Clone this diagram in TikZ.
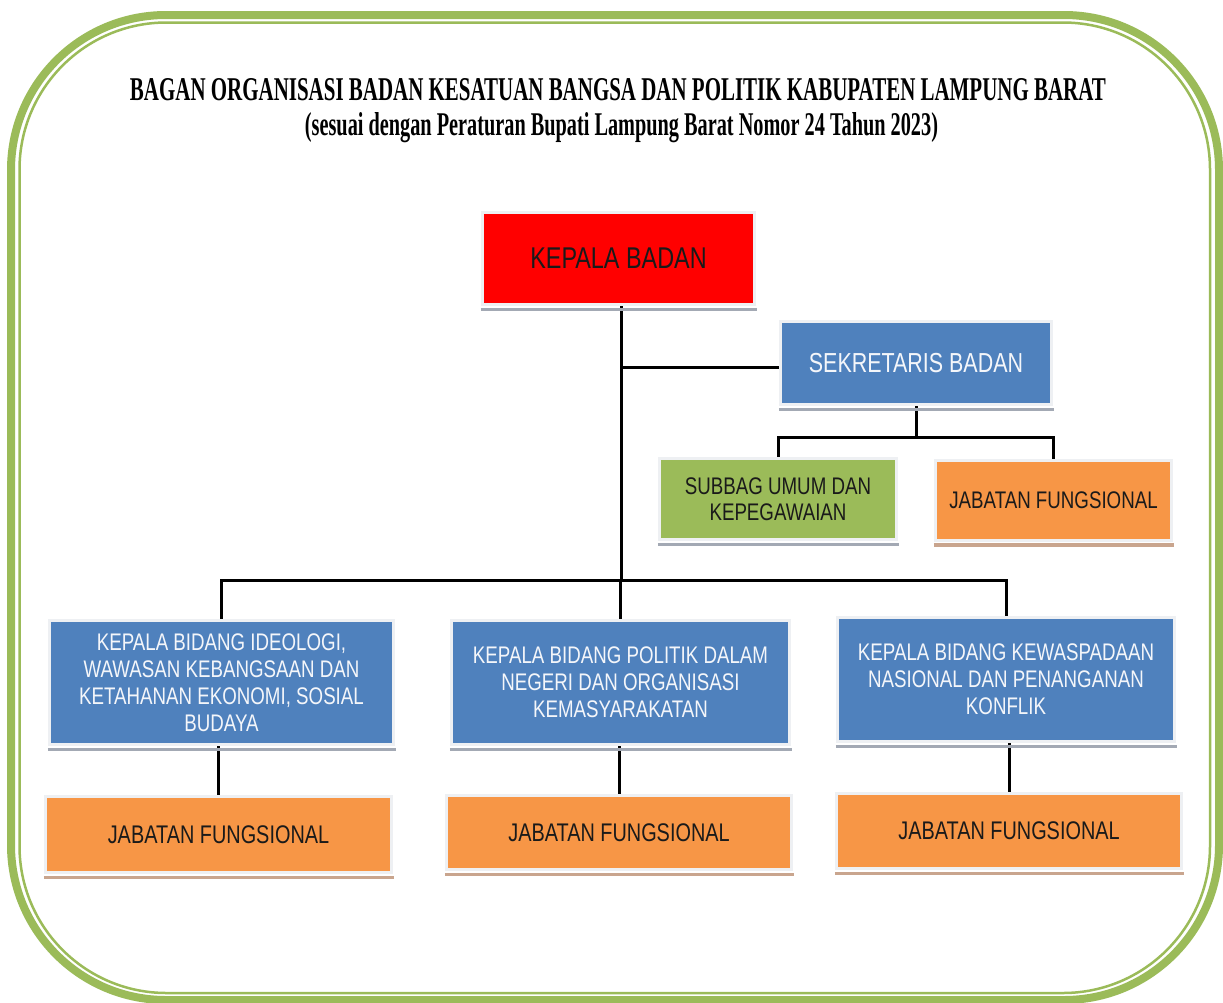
\documentclass[tikz,border=0pt]{standalone}
\usepackage{fontspec}
\usepackage{graphicx}
\usetikzlibrary{backgrounds}
\newfontfamily\titlefont{Liberation Serif}
\newfontfamily\boxfont[FakeStretch=0.78]{Liberation Sans}
\definecolor{kbred}{HTML}{FF0000}
\definecolor{obblue}{HTML}{4F81BD}
\definecolor{obgreen}{HTML}{9BBB59}
\definecolor{oborange}{HTML}{F79646}
\definecolor{framecol}{HTML}{EEF0F3}
\definecolor{shadgray}{HTML}{A3A9B4}
\definecolor{shadbrown}{HTML}{C9A58E}
\definecolor{bordergreen}{HTML}{9BBB59}
\definecolor{darktext}{HTML}{1A1A1A}
\definecolor{lighttext}{HTML}{F4F6FA}
\begin{document}
\begin{tikzpicture}[x=1pt,y=-1pt,
  orgbox/.style={rectangle, inner sep=0pt, align=center, preaction={draw=framecol, line width=6pt}},
  redbox/.style={orgbox, fill=kbred, text=darktext, font=\boxfont\fontsize{30}{34}\selectfont},
  sekbox/.style={orgbox, fill=obblue, text=lighttext, font=\boxfont\fontsize{27.5}{31}\selectfont},
  bluebox/.style={orgbox, fill=obblue, text=lighttext, font=\boxfont\fontsize{24}{27}\selectfont},
  greenbox/.style={orgbox, fill=obgreen, text=darktext, font=\boxfont\fontsize{24}{26}\selectfont},
  orangebox/.style={orgbox, fill=oborange, text=darktext, font=\boxfont\fontsize{24}{27}\selectfont},
  jfbox/.style={orgbox, fill=oborange, text=darktext, font=\boxfont\fontsize{25.5}{29}\selectfont},
  link/.style={draw=black, line width=3pt},
  shadowline/.style={line width=3.5pt},
  frameouter/.style={draw=bordergreen, line width=8pt, rounded corners=155pt},
  frameinner/.style={draw=bordergreen, line width=2.5pt, rounded corners=147pt}
]
\useasboundingbox (0,0) rectangle (1223,1002);

% page frame
\draw[frameouter] (11,15) rectangle (1219,1000);
\draw[frameinner] (19.5,22.5) rectangle (1210,993);

% title
\node[anchor=base, inner sep=0pt] (title1) at (618,100)
  {\resizebox{976pt}{22pt}{\titlefont\bfseries BAGAN ORGANISASI BADAN KESATUAN BANGSA DAN POLITIK KABUPATEN LAMPUNG BARAT}};
\node[anchor=base, inner sep=0pt] (title2) at (621.5,135)
  {\resizebox{633pt}{23pt}{\titlefont\bfseries (sesuai dengan Peraturan Bupati Lampung Barat Nomor 24 Tahun 2023)}};

% boxes
\node[redbox, minimum width=269pt, minimum height=89pt] (kb) at (618.5,258.5) {KEPALA BADAN};
\node[sekbox, minimum width=268pt, minimum height=80pt] (sek) at (916,363) {SEKRETARIS BADAN};
\node[greenbox, minimum width=234pt, minimum height=78pt] (sub) at (778,499) {SUBBAG UMUM DAN\\KEPEGAWAIAN};
\node[orangebox, minimum width=233pt, minimum height=77pt] (jf0) at (1053.5,500) {JABATAN FUNGSIONAL};

\node[bluebox, minimum width=341pt, minimum height=121pt] (b1) at (221.5,682.5)
  {KEPALA BIDANG IDEOLOGI,\\WAWASAN KEBANGSAAN DAN\\KETAHANAN EKONOMI, SOSIAL\\BUDAYA};
\node[bluebox, minimum width=335pt, minimum height=121pt] (b2) at (620.5,682.5)
  {KEPALA BIDANG POLITIK DALAM\\NEGERI DAN ORGANISASI\\KEMASYARAKATAN};
\node[bluebox, minimum width=334pt, minimum height=121pt] (b3) at (1006,679.5)
  {KEPALA BIDANG KEWASPADAAN\\NASIONAL DAN PENANGANAN\\KONFLIK};

\node[jfbox, minimum width=343pt, minimum height=73pt] (j1) at (218.5,834.5) {JABATAN FUNGSIONAL};
\node[jfbox, minimum width=342pt, minimum height=71pt] (j2) at (619,832.5) {JABATAN FUNGSIONAL};
\node[jfbox, minimum width=342pt, minimum height=72pt] (j3) at (1009,831) {JABATAN FUNGSIONAL};

% box shadows
\foreach \n in {kb,sek,sub,b1,b2,b3}
  \draw[shadowline, draw=shadgray] ([xshift=-3pt,yshift=-6.5pt]\n.south west) -- ([xshift=4pt,yshift=-6.5pt]\n.south east);
\foreach \n in {jf0,j1,j2,j3}
  \draw[shadowline, draw=shadbrown] ([xshift=-3pt,yshift=-6.5pt]\n.south west) -- ([xshift=4pt,yshift=-6.5pt]\n.south east);

% connectors
\begin{pgfonlayer}{background}
\fill[white] (0,0) rectangle (1223,1002);
\coordinate (tA) at (621,367);
\coordinate (tB) at (621,580);
\coordinate (sA) at (916,437);
\draw[link] (kb.south -| tA) -- (tB);
\draw[link] (tA) -- (tA -| sek.west);
\draw[link] (sek.south) -- (sA);
\draw[link] (sub.north) -- (sub.north |- sA) -- (jf0.north |- sA) -- (jf0.north);
\draw[link] (b1.north) -- (b1.north |- tB) -- (b3.north |- tB) -- (b3.north);
\draw[link] (b2.north |- tB) -- (b2.north);
\draw[link] (j1.north |- b1.south) -- (j1.north);
\draw[link] (j2.north |- b2.south) -- (j2.north);
\draw[link] (j3.north |- b3.south) -- (j3.north);
\end{pgfonlayer}
\end{tikzpicture}
\end{document}
